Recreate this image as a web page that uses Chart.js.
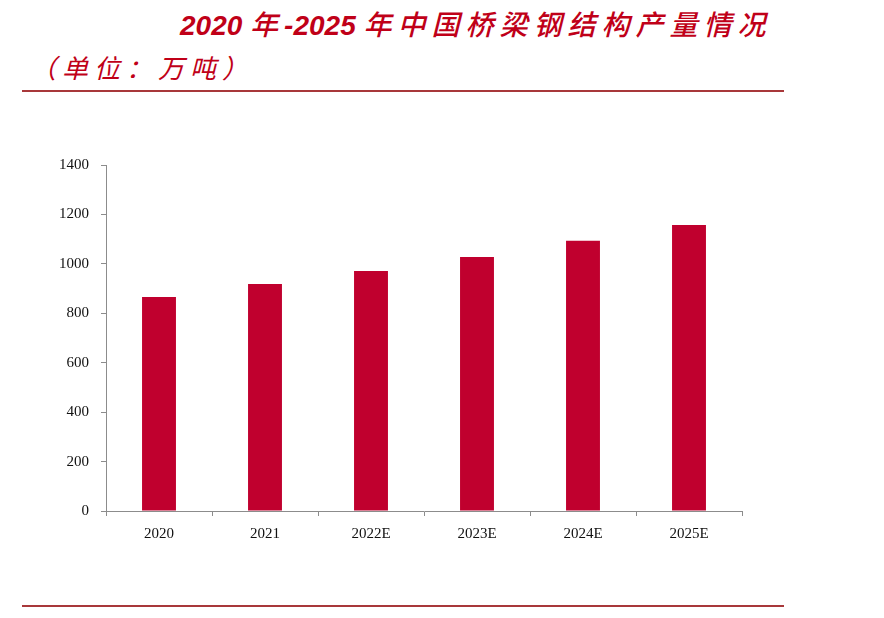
<!DOCTYPE html>
<html>
<head>
<meta charset="utf-8">
<script src="https://cdn.jsdelivr.net/npm/chart.js@4/dist/chart.umd.min.js"></script>
<style>
  body { margin: 0; background: #fff; }
  #wrap { position: relative; width: 884px; height: 618px; overflow: hidden; }
  #title { position: absolute; left: 180px; top: 3px; font: italic 500 28px "Noto Sans CJK SC", sans-serif;
           color: #c00018; letter-spacing: 6px; white-space: nowrap; }
  #title b { font-family: "Liberation Sans", sans-serif; font-weight: bold; letter-spacing: 0; }
  #unit { position: absolute; left: 30px; top: 48px; font: italic 26px "Noto Sans CJK SC", sans-serif;
          color: #c00018; letter-spacing: 6px; white-space: nowrap; }
  .rule { position: absolute; left: 22px; width: 762px; height: 2px; background: #a8383a; }
  canvas { position: absolute; left: 0; top: 0; }
</style>
</head>
<body>
<div id="wrap">
  <div id="title"><b>2020 </b>年<b>-2025 </b>年中国桥梁钢结构产量情况</div>
  <div id="unit">（单位：万吨）</div>
  <div class="rule" style="top:90px"></div>
  <div class="rule" style="top:605px"></div>
  <canvas id="c" width="884" height="618"></canvas>
</div>
<script>
const years = ["2020", "2021", "2022E", "2023E", "2024E", "2025E"];
const output = [866, 919, 971, 1028, 1093, 1157];
const yTicks = [0, 200, 400, 600, 800, 1000, 1200, 1400];

const axisColor = "#8c8c8c";
const tickFont = { family: "Liberation Serif", size: 15 };

new Chart(document.getElementById("c"), {
  type: "bar",
  data: {
    labels: years,
    datasets: [{
      data: output,
      backgroundColor: "#c0002e",
      barPercentage: 0.64,
      categoryPercentage: 0.5
    }]
  },
  options: {
    responsive: false,
    animation: false,
    layout: { padding: { left: 36, right: 142, top: 165, bottom: 67 } },
    plugins: { legend: { display: false }, tooltip: { enabled: false } },
    scales: {
      x: {
        offset: true,
        grid: { offset: true, drawOnChartArea: false, color: axisColor, tickLength: 5 },
        border: { color: axisColor, width: 1 },
        ticks: { color: "#111", font: tickFont, padding: 9, maxRotation: 0 },
        afterFit: s => { s.height = 40; }
      },
      y: {
        min: 0,
        max: 1400,
        afterBuildTicks: s => { s.ticks = yTicks.map(v => ({ value: v })); },
        grid: { drawOnChartArea: false, color: axisColor, tickLength: 5 },
        border: { color: axisColor, width: 1 },
        ticks: { color: "#111", font: tickFont, padding: 12, callback: v => String(v) },
        afterFit: s => { s.width = 70; }
      }
    }
  }
});
</script>
</body>
</html>
